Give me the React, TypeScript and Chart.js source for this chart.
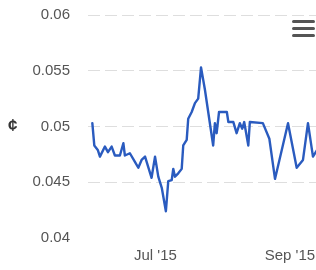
import React, { useEffect, useRef } from "react";
import { Chart, registerables } from "chart.js";

Chart.register(...registerables);

// Days counted from 1 Jul 2015
const dayOffsets = [
  -29.1, -28.2, -26.6, -25.6, -23.3, -21.9, -20.2, -18.7, -16.4, -14.8,
  -14.1, -11.8, -9.4, -7.9, -6.4, -4.8, -1.8, -0.2, 1.3, 2.9,
  4.8, 5.9, 7.5, 8.2, 9.0, 10.5, 12.1, 12.8, 14.4, 15.1,
  16.7, 18.2, 19.7, 21.0, 22.8, 26.6, 27.4, 28.2, 29.3, 32.9,
  33.6, 35.9, 37.4, 38.9, 40.0, 40.9, 42.8, 43.5, 49.5, 52.5, 55.1,
  61.1, 65.1, 68.0, 70.3, 72.6, 74.5,
];
const rates = [
  0.0503, 0.0483, 0.0479, 0.0473, 0.0482, 0.0477, 0.0482, 0.0474, 0.0474, 0.0485,
  0.0474, 0.0476, 0.0468, 0.0463, 0.047, 0.0473, 0.0454, 0.0473, 0.0455, 0.0445,
  0.0424, 0.0451, 0.0452, 0.0462, 0.0455, 0.0458, 0.0462, 0.0483, 0.0488, 0.0507,
  0.0513, 0.0521, 0.0525, 0.0553, 0.0533, 0.0483, 0.0503, 0.0494, 0.0513, 0.0513,
  0.0504, 0.0504, 0.0494, 0.0503, 0.0498, 0.0504, 0.0483, 0.0504, 0.0503, 0.0489, 0.0453,
  0.0503, 0.0463, 0.047, 0.0503, 0.0473, 0.0479,
];
const yTickValues = [0.04, 0.045, 0.05, 0.055, 0.06];
const yTickLabels = ["0.04", "0.045", "0.05", "0.055", "0.06"];
const xTickValues = [0, 62];
const xTickLabels = ["Jul '15", "Sep '15"];
const yAxisTitle = "¢";

const FONT = "'Liberation Sans', Arial, Helvetica, sans-serif";

export default function App() {
  const ref = useRef<HTMLCanvasElement>(null);

  useEffect(() => {
    const canvas = ref.current;
    if (!canvas) return;
    const chart = new Chart(canvas, {
      type: "line",
      data: {
        datasets: [
          {
            data: dayOffsets.map((d, i) => ({ x: d, y: rates[i] })),
            borderColor: "#2a5bbf",
            borderWidth: 2.4,
            borderJoinStyle: "round",
            borderCapStyle: "round",
            pointRadius: 0,
            tension: 0,
            fill: false,
          },
        ],
      },
      options: {
        animation: false,
        responsive: false,
        maintainAspectRatio: false,
        layout: { padding: { top: 15, left: 0, right: 0, bottom: 0 } },
        plugins: { legend: { display: false }, tooltip: { enabled: false } },
        scales: {
          x: {
            type: "linear",
            min: -31.1,
            max: 74,
            afterBuildTicks: (s: any) => {
              s.ticks = xTickValues.map((v) => ({ value: v }));
            },
            ticks: {
              autoSkip: false,
              maxRotation: 0,
              padding: 9,
              color: "#555",
              font: { family: FONT, size: 15 },
              callback: (v: any) => {
                const i = xTickValues.indexOf(Number(v));
                return i >= 0 ? xTickLabels[i] : "";
              },
            },
            grid: { display: false, drawTicks: false },
            border: { display: false },
            afterFit: (s: any) => {
              s.height = 32;
              s.paddingLeft = 0;
              s.paddingRight = 0;
            },
          },
          y: {
            type: "linear",
            min: 0.04,
            max: 0.06,
            afterBuildTicks: (s: any) => {
              s.ticks = yTickValues.map((v) => ({ value: v }));
            },
            ticks: {
              padding: 18,
              color: "#555",
              font: { family: FONT, size: 15 },
              callback: (v: any) => {
                const i = yTickValues.findIndex((t) => Math.abs(t - Number(v)) < 1e-9);
                return i >= 0 ? yTickLabels[i] : "";
              },
            },
            grid: {
              drawTicks: false,
              lineWidth: 1,
              color: (ctx: any) =>
                ctx.tick && Math.abs(ctx.tick.value - 0.04) < 1e-9 ? "rgba(0,0,0,0)" : "#dedede",
            },
            border: { display: false, dash: [12, 5] },
            afterFit: (s: any) => {
              s.width = 88;
              s.paddingTop = 0;
              s.paddingBottom = 0;
            },
          },
        },
      },
    });
    return () => chart.destroy();
  }, []);

  const bar: React.CSSProperties = {
    position: "absolute",
    left: 292,
    width: 23,
    height: 3,
    borderRadius: 1.5,
    background: "#555",
  };

  return (
    <div style={{ position: "absolute", left: 0, top: 0, width: 316, height: 270, background: "#fff", overflow: "hidden" }}>
      <canvas ref={ref} width={316} height={270} style={{ display: "block", width: 316, height: 270 }} />
      <span
        style={{
          position: "absolute",
          left: 8,
          top: 116,
          fontFamily: FONT,
          fontSize: 17,
          fontWeight: "bold",
          color: "#333",
          lineHeight: "20px",
        }}
      >
        {yAxisTitle}
      </span>
      <div style={{ ...bar, top: 20 }} />
      <div style={{ ...bar, top: 27 }} />
      <div style={{ ...bar, top: 34 }} />
    </div>
  );
}
